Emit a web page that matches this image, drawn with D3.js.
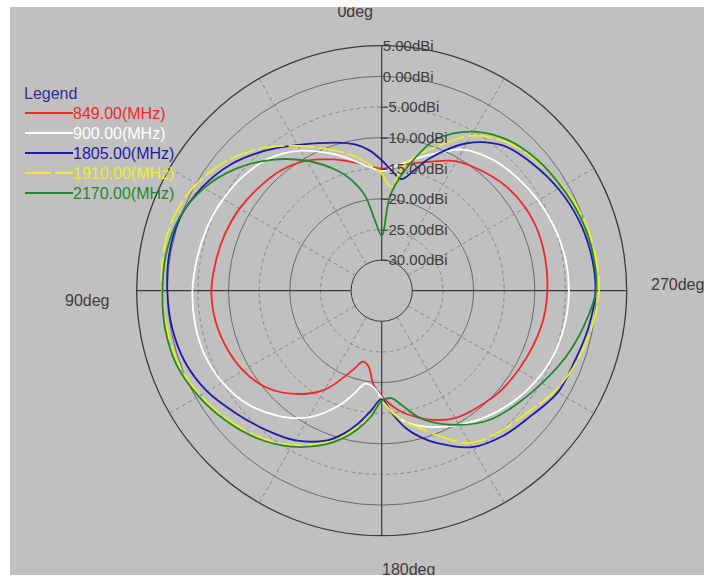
<!DOCTYPE html>
<html>
<head>
<meta charset="utf-8">
<script src="https://cdn.jsdelivr.net/npm/d3@7"></script>
<style>
  body { margin: 0; background: #fff; }
  svg { display: block; font-family: "Liberation Sans", Arial, sans-serif; }
</style>
</head>
<body>
<svg id="chart" width="704" height="577"></svg>
<script>
// angles in deg, counter-clockwise from the top (90deg on the left)
const angles = [0, 5, 10, 15, 20, 30, 40, 50, 60, 70, 80, 90, 100, 110, 120, 130, 140, 150, 160, 165, 170, 175,
    180, 185, 190, 195, 200, 210, 220, 230, 240, 250, 260, 270, 280, 290, 300, 310, 320, 330, 340, 345, 350, 355];

// gain in dBi per frequency
const g849 = [-15.1, -14.6, -13.9, -13.1, -12.2, -10.5, -9.4, -8.8, -8.2, -7.8, -7.5, -7.2, -7.4, -8.0, -8.9, -10.4, -13.0, -16.3, -21.2, -23.0, -22.5, -19.6,
    -17.8, -16.2, -14.8, -13.7, -12.6, -11.0, -10.3, -9.6, -9.2, -8.7, -8.2, -7.95, -7.8, -7.7, -7.9, -8.5, -9.5, -10.6, -12.6, -13.4, -14.1, -14.7];
const g900 = [-15.5, -14.8, -13.8, -12.5, -11.2, -8.6, -6.7, -5.7, -5.1, -4.7, -4.4, -4.1, -4.05, -4.25, -5.0, -6.3, -8.4, -11.1, -15.2, -17.6, -19.6, -19.2,
    -17.5, -15.0, -13.3, -12.2, -11.3, -9.7, -8.2, -6.9, -5.8, -5.0, -4.6, -4.43, -4.55, -4.95, -5.5, -6.2, -7.0, -8.4, -11.3, -12.6, -13.8, -14.8];
const g1805 = [-13.7, -12.0, -10.8, -10.0, -9.3, -7.5, -5.2, -2.9, -1.2, 0.0, 0.2, 0.0, -0.25, -0.85, -2.1, -3.9, -5.4, -6.8, -9.0, -10.8, -13.0, -15.4,
    -17.3, -14.8, -12.2, -10.2, -8.5, -5.5, -4.1, -3.2, -1.8, -1.45, -0.7, -0.1, -0.3, -0.85, -1.7, -2.8, -4.1, -7.2, -12.0, -14.7, -16.5, -15.4];
const g1910 = [-15.9, -14.5, -13.0, -11.7, -10.5, -7.7, -4.6, -2.0, -0.1, 1.0, 1.2, 0.9, 0.6, 0.3, -0.8, -2.2, -3.8, -5.9, -8.6, -10.3, -12.3, -14.4,
    -16.8, -15.0, -13.3, -11.9, -10.1, -6.3, -5.0, -4.0, -2.3, -1.1, -0.2, 0.5, 0.35, -0.05, -0.95, -2.0, -3.3, -5.8, -10.2, -12.0, -14.2, -18.0];
const g2170 = [-26.0, -23.8, -19.2, -16.4, -14.2, -10.5, -7.1, -4.0, -1.5, 0.1, 0.7, 0.8, 0.9, 0.6, -0.5, -1.9, -3.5, -5.6, -8.3, -10.0, -12.0, -14.3,
    -17.0, -17.4, -16.0, -14.0, -12.3, -9.7, -7.5, -6.2, -4.8, -3.1, -1.5, 0.0, 0.0, -0.4, -1.1, -1.8, -2.9, -5.0, -8.6, -12.0, -15.6, -19.5];

const freqLabels = ["849.00(MHz)", "900.00(MHz)", "1805.00(MHz)", "1910.00(MHz)", "2170.00(MHz)"];
const ringValues = [5, 0, -5, -10, -15, -20, -25, -30];
const angleLabels = ["0deg", "90deg", "180deg", "270deg"];

const seriesColors = ["#f02828", "#ffffff", "#1c1ca6", "#eeee22", "#22882a"];
const gains = [g849, g900, g1805, g1910, g2170];

const svg = d3.select("#chart");
const cx = 381.7, cy = 290.7, R = 245;
const r = d3.scaleLinear().domain([-35, 5]).range([0, R]);
const rad = d => d * Math.PI / 180;

// grey plot background
svg.append("rect").attr("width", 704).attr("height", 577).attr("fill", "#c0c0c0");

const g = svg.append("g").attr("transform", `translate(${cx},${cy})`);

// rings
g.selectAll("circle.ring")
    .data(ringValues)
    .join("circle")
    .attr("class", "ring")
    .attr("r", d => r(d))
    .attr("fill", "none")
    .attr("stroke", d => d === 5 || d === -30 ? "#3a3a3a" : (d % 10 === 0 ? "#6a6a6a" : "#8a8a8a"))
    .attr("stroke-width", d => d === 5 ? 1.3 : 1)
    .attr("stroke-dasharray", d => (d % 10 !== 0 && d !== 5) ? "4,3" : null);

// dashed spokes every 30deg
g.selectAll("line.spoke")
    .data(d3.range(30, 360, 30).filter(a => a % 90 !== 0))
    .join("line")
    .attr("class", "spoke")
    .attr("x1", a => r(-30) * Math.sin(rad(a)))
    .attr("y1", a => -r(-30) * Math.cos(rad(a)))
    .attr("x2", a => R * Math.sin(rad(a)))
    .attr("y2", a => -R * Math.cos(rad(a)))
    .attr("stroke", "#8a8a8a")
    .attr("stroke-dasharray", "4,3");

// main axes
g.selectAll("line.axis")
    .data([0, 90, 180, 270])
    .join("line")
    .attr("class", "axis")
    .attr("x1", a => r(-30) * Math.sin(rad(a)))
    .attr("y1", a => -r(-30) * Math.cos(rad(a)))
    .attr("x2", a => R * Math.sin(rad(a)))
    .attr("y2", a => -R * Math.cos(rad(a)))
    .attr("stroke", "#3a3a3a")
    .attr("stroke-width", 1.2);

// curves
const line = d3.lineRadial()
    .angle(d => -rad(d[0]))
    .radius(d => r(d[1]))
    .curve(d3.curveCatmullRomClosed);

g.selectAll("path.trace")
    .data(gains)
    .join("path")
    .attr("class", "trace")
    .attr("d", vals => line(angles.map((a, i) => [a, vals[i]])))
    .attr("fill", "none")
    .attr("stroke", (d, i) => seriesColors[i])
    .attr("stroke-width", 1.8)
    .attr("stroke-dasharray", (d, i) => i === 3 ? "26,4" : null);

// ring labels on the vertical axis
g.selectAll("text.ringlab")
    .data(ringValues)
    .join("text")
    .attr("class", "ringlab")
    .attr("x", d => d < 0 ? -2 : 1)
    .attr("y", d => -r(d))
    .attr("dy", "0.36em")
    .attr("font-size", 15)
    .attr("fill", "#3c3c3c")
    .text(d => d3.format(".2f")(d) + "dBi");

// angle labels
const angPos = [[373, 17, "end"], [65, 306, "start"], [382, 575, "start"], [651, 290, "start"]];
svg.selectAll("text.anglab")
    .data(angleLabels)
    .join("text")
    .attr("class", "anglab")
    .attr("x", (d, i) => angPos[i][0])
    .attr("y", (d, i) => angPos[i][1])
    .attr("text-anchor", (d, i) => angPos[i][2])
    .attr("font-size", 16)
    .attr("fill", "#3c3c3c")
    .text(d => d);

// legend
const legend = svg.append("g");
legend.append("text")
    .attr("x", 24).attr("y", 93).attr("dy", "0.36em")
    .attr("font-size", 16).attr("fill", "#2e2e96")
    .text("Legend");
const items = legend.selectAll("g.item")
    .data(freqLabels)
    .join("g")
    .attr("class", "item")
    .attr("transform", (d, i) => `translate(0,${113 + i * 20})`);
items.append("line")
    .attr("x1", 25).attr("x2", 73)
    .attr("stroke", (d, i) => seriesColors[i])
    .attr("stroke-width", 1.8)
    .attr("stroke-dasharray", (d, i) => i === 3 ? "26,4" : null);
items.append("text")
    .attr("x", 73).attr("dy", "0.36em")
    .attr("font-size", 16)
    .attr("fill", (d, i) => seriesColors[i])
    .text(d => d);

// white strips around the screenshot (they clip the top and bottom labels)
svg.append("rect").attr("x", 0).attr("y", 0).attr("width", 10).attr("height", 577).attr("fill", "#fff");
svg.append("rect").attr("x", 0).attr("y", 0).attr("width", 704).attr("height", 7).attr("fill", "#fff");
svg.append("rect").attr("x", 0).attr("y", 575).attr("width", 704).attr("height", 2).attr("fill", "#fff");
</script>
</body>
</html>
